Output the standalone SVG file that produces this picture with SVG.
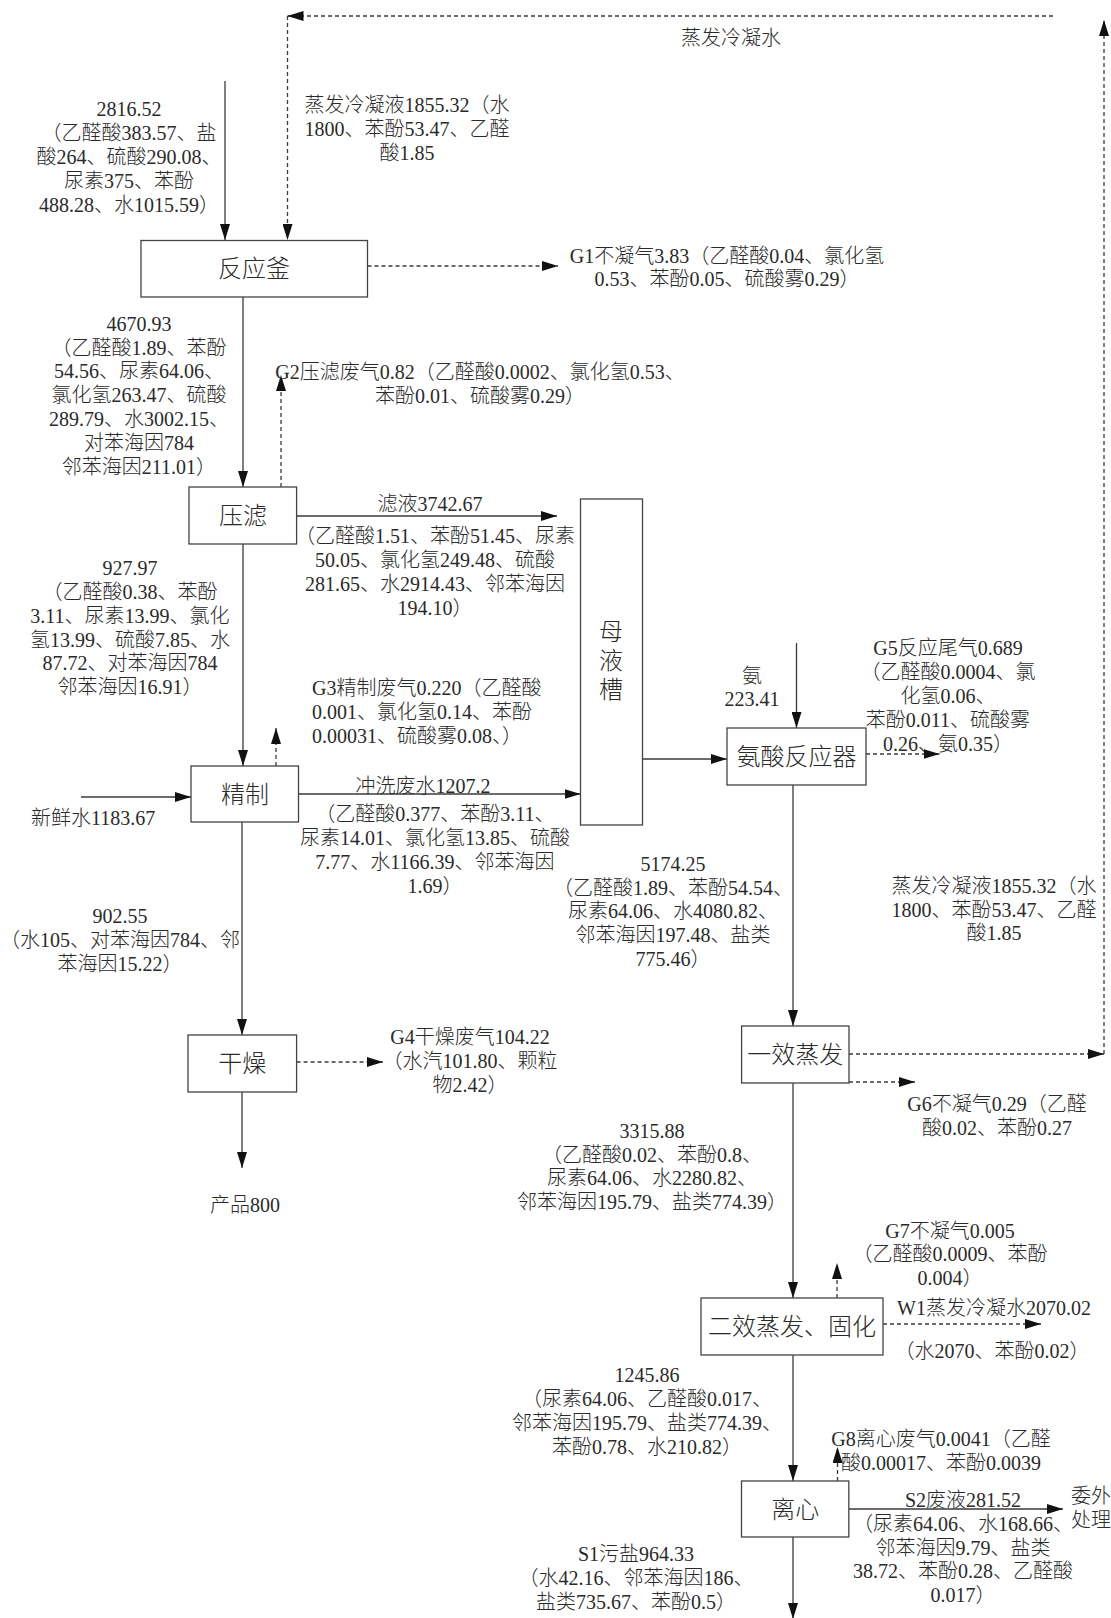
<svg xmlns="http://www.w3.org/2000/svg" width="1111" height="1618" viewBox="0 0 1111 1618">
  <defs>
    <marker id="arr" viewBox="0 0 16 10" refX="16" refY="5" markerWidth="16" markerHeight="10" markerUnits="userSpaceOnUse" orient="auto">
      <path d="M0,0 L16,5 L0,10 z" fill="#111"/>
    </marker>
    <style>
      .box { fill: #fff; stroke: #444; stroke-width: 1.3; }
      .ln { fill: none; stroke: #3a3a3a; stroke-width: 1.3; marker-end: url(#arr); }
      .dash { stroke-dasharray: 4 3; }
      .plain { marker-end: none; }
      text { font-family: "Liberation Serif", "Noto Sans CJK SC", serif; fill: #2a2a2a; font-weight: 300; }
      .t { font-size: 20px; text-anchor: middle; }
      .ts { font-size: 20px; text-anchor: start; }
      .b { font-size: 24px; text-anchor: middle; }
    </style>
  </defs>
  <rect width="1111" height="1618" fill="#fff"/>

  <!-- process connectors -->
  <g id="connectors">
    <line class="ln" x1="225" y1="81" x2="225" y2="240"/>
    <line class="ln" x1="243" y1="297" x2="243" y2="487"/>
    <line class="ln" x1="243" y1="544" x2="243" y2="766"/>
    <line class="ln" x1="242" y1="822" x2="242" y2="1035"/>
    <line class="ln" x1="242" y1="1092" x2="242" y2="1168"/>
    <line class="ln" x1="297" y1="516" x2="557" y2="516"/>
    <line class="ln" x1="81" y1="797" x2="191" y2="797"/>
    <line class="ln" x1="298.5" y1="794" x2="580.5" y2="794"/>
    <line class="ln" x1="643" y1="759" x2="727" y2="759"/>
    <line class="ln" x1="796.5" y1="643" x2="796.5" y2="728"/>
    <line class="ln" x1="793" y1="785" x2="793" y2="1026"/>
    <line class="ln" x1="793" y1="1083" x2="793" y2="1298"/>
    <line class="ln" x1="793" y1="1355" x2="793" y2="1481"/>
    <line class="ln" x1="793" y1="1537" x2="793" y2="1619"/>
    <line class="ln" x1="849" y1="1509" x2="1063" y2="1509"/>

    <!-- condensate return loop -->
    <line class="ln dash" x1="1053" y1="16" x2="287.5" y2="16"/>
    <line class="ln dash" x1="287.5" y1="16" x2="287.5" y2="240"/>
    <line class="ln dash" x1="849" y1="1054" x2="1104" y2="1054"/>
    <line class="ln dash" x1="1104" y1="1054" x2="1104" y2="20"/>

    <!-- off-gas and condensate outlets -->
    <line class="ln dash" x1="367.5" y1="266" x2="558" y2="266"/>
    <line class="ln dash" x1="281" y1="487" x2="281" y2="375"/>
    <line class="ln dash" x1="276" y1="766" x2="276" y2="728"/>
    <line class="ln dash" x1="296.6" y1="1062" x2="383" y2="1062"/>
    <line class="ln dash" x1="866" y1="754" x2="939.5" y2="754"/>
    <line class="ln dash" x1="849" y1="1082" x2="915" y2="1082"/>
    <line class="ln dash" x1="837" y1="1298" x2="837" y2="1263"/>
    <line class="ln dash" x1="883" y1="1324" x2="1041" y2="1324"/>
    <line class="ln dash" x1="837.5" y1="1481" x2="837.5" y2="1447"/>
  </g>

  <!-- process units -->
  <g id="reactor">
    <rect class="box" x="141" y="240.5" width="226.5" height="56.5"/>
    <text class="b" x="254" y="277">反应釜</text>
  </g>
  <g id="filter-press">
    <rect class="box" x="189" y="487" width="107.6" height="57"/>
    <text class="b" x="243" y="524">压滤</text>
  </g>
  <g id="refining">
    <rect class="box" x="191" y="766" width="107.5" height="56"/>
    <text class="b" x="245" y="802.5">精制</text>
  </g>
  <g id="drying">
    <rect class="box" x="188" y="1035" width="108.6" height="57"/>
    <text class="b" x="242.3" y="1072">干燥</text>
  </g>
  <g id="mother-liquor-tank">
    <rect class="box" x="580.5" y="499" width="62" height="326"/>
    <text class="b" x="611" y="639.5">母</text>
    <text class="b" x="611" y="668.5">液</text>
    <text class="b" x="611" y="697.5">槽</text>
  </g>
  <g id="ammonia-reactor">
    <rect class="box" x="727" y="728" width="139" height="57"/>
    <text class="b" x="796.5" y="765">氨酸反应器</text>
  </g>
  <g id="first-evaporator">
    <rect class="box" x="741.6" y="1026" width="107.4" height="57"/>
    <text class="b" x="795.3" y="1063">一效蒸发</text>
  </g>
  <g id="second-evaporator">
    <rect class="box" x="701" y="1298" width="182" height="57"/>
    <text class="b" x="792" y="1335">二效蒸发、固化</text>
  </g>
  <g id="centrifuge">
    <rect class="box" x="741.5" y="1481" width="107.3" height="56"/>
    <text class="b" x="795.3" y="1517.5">离心</text>
  </g>

  <!-- stream labels -->
  <g id="labels">
    <text class="t" x="731" y="45">蒸发冷凝水</text>

    <text class="t" x="129" y="116">2816.52</text>
    <text class="t" x="129" y="140">（乙醛酸383.57、盐</text>
    <text class="t" x="129" y="164">酸264、硫酸290.08、</text>
    <text class="t" x="129" y="188">尿素375、苯酚</text>
    <text class="t" x="129" y="212">488.28、水1015.59）</text>

    <text class="t" x="407" y="112">蒸发冷凝液1855.32（水</text>
    <text class="t" x="407" y="136">1800、苯酚53.47、乙醛</text>
    <text class="t" x="407" y="160">酸1.85</text>

    <text class="t" x="727" y="263">G1不凝气3.83（乙醛酸0.04、氯化氢</text>
    <text class="t" x="727" y="286">0.53、苯酚0.05、硫酸雾0.29）</text>

    <text class="t" x="139" y="331">4670.93</text>
    <text class="t" x="139" y="355">（乙醛酸1.89、苯酚</text>
    <text class="t" x="139" y="378">54.56、尿素64.06、</text>
    <text class="t" x="139" y="402">氯化氢263.47、硫酸</text>
    <text class="t" x="139" y="426">289.79、水3002.15、</text>
    <text class="t" x="139" y="450">对苯海因784</text>
    <text class="t" x="139" y="474">邻苯海因211.01）</text>

    <text class="t" x="480" y="379">G2压滤废气0.82（乙醛酸0.0002、氯化氢0.53、</text>
    <text class="t" x="480" y="403">苯酚0.01、硫酸雾0.29）</text>

    <text class="t" x="430" y="511">滤液3742.67</text>
    <text class="t" x="435" y="543">（乙醛酸1.51、苯酚51.45、尿素</text>
    <text class="t" x="435" y="567">50.05、氯化氢249.48、硫酸</text>
    <text class="t" x="435" y="591">281.65、水2914.43、邻苯海因</text>
    <text class="t" x="435" y="615">194.10）</text>

    <text class="t" x="130" y="575">927.97</text>
    <text class="t" x="130" y="599">（乙醛酸0.38、苯酚</text>
    <text class="t" x="130" y="623">3.11、尿素13.99、氯化</text>
    <text class="t" x="130" y="647">氢13.99、硫酸7.85、水</text>
    <text class="t" x="130" y="670">87.72、对苯海因784</text>
    <text class="t" x="130" y="694">邻苯海因16.91）</text>

    <text class="ts" x="312" y="695">G3精制废气0.220（乙醛酸</text>
    <text class="ts" x="312" y="719">0.001、氯化氢0.14、苯酚</text>
    <text class="ts" x="312" y="743">0.00031、硫酸雾0.08、）</text>

    <text class="ts" x="31" y="825">新鲜水1183.67</text>

    <text class="t" x="423" y="793">冲洗废水1207.2</text>
    <text class="t" x="435" y="821">（乙醛酸0.377、苯酚3.11、</text>
    <text class="t" x="435" y="845">尿素14.01、氯化氢13.85、硫酸</text>
    <text class="t" x="435" y="869">7.77、水1166.39、邻苯海因</text>
    <text class="t" x="435" y="893">1.69）</text>

    <text class="t" x="120" y="923">902.55</text>
    <text class="t" x="120" y="947">（水105、对苯海因784、邻</text>
    <text class="t" x="120" y="971">苯海因15.22）</text>

    <text class="t" x="470" y="1044">G4干燥废气104.22</text>
    <text class="t" x="470" y="1068">（水汽101.80、颗粒</text>
    <text class="t" x="470" y="1092">物2.42）</text>

    <text class="t" x="245" y="1212">产品800</text>

    <text class="t" x="752" y="683">氨</text>
    <text class="t" x="752" y="706">223.41</text>

    <text class="t" x="948" y="655">G5反应尾气0.689</text>
    <text class="t" x="948" y="679">（乙醛酸0.0004、氯</text>
    <text class="t" x="948" y="703">化氢0.06、</text>
    <text class="t" x="948" y="727">苯酚0.011、硫酸雾</text>
    <text class="t" x="948" y="751">0.26、氨0.35）</text>

    <text class="t" x="673" y="871">5174.25</text>
    <text class="t" x="673" y="895">（乙醛酸1.89、苯酚54.54、</text>
    <text class="t" x="673" y="918">尿素64.06、水4080.82、</text>
    <text class="t" x="673" y="942">邻苯海因197.48、盐类</text>
    <text class="t" x="673" y="966">775.46）</text>

    <text class="t" x="994" y="893">蒸发冷凝液1855.32（水</text>
    <text class="t" x="994" y="917">1800、苯酚53.47、乙醛</text>
    <text class="t" x="994" y="940">酸1.85</text>

    <text class="t" x="997" y="1111">G6不凝气0.29（乙醛</text>
    <text class="t" x="997" y="1135">酸0.02、苯酚0.27</text>

    <text class="t" x="652" y="1138">3315.88</text>
    <text class="t" x="652" y="1162">（乙醛酸0.02、苯酚0.8、</text>
    <text class="t" x="652" y="1185">尿素64.06、水2280.82、</text>
    <text class="t" x="652" y="1209">邻苯海因195.79、盐类774.39）</text>

    <text class="t" x="950" y="1238">G7不凝气0.005</text>
    <text class="t" x="950" y="1261">（乙醛酸0.0009、苯酚</text>
    <text class="t" x="950" y="1285">0.004）</text>

    <text class="t" x="994" y="1315">W1蒸发冷凝水2070.02</text>
    <text class="t" x="992" y="1358">（水2070、苯酚0.02）</text>

    <text class="t" x="647" y="1382">1245.86</text>
    <text class="t" x="647" y="1406">（尿素64.06、乙醛酸0.017、</text>
    <text class="t" x="647" y="1430">邻苯海因195.79、盐类774.39、</text>
    <text class="t" x="647" y="1454">苯酚0.78、水210.82）</text>

    <text class="t" x="941" y="1446">G8离心废气0.0041（乙醛</text>
    <text class="t" x="941" y="1470">酸0.00017、苯酚0.0039</text>

    <text class="t" x="963" y="1507">S2废液281.52</text>
    <text class="ts" x="1071" y="1503">委外</text>
    <text class="ts" x="1071" y="1527">处理</text>
    <text class="t" x="963" y="1531">（尿素64.06、水168.66、</text>
    <text class="t" x="963" y="1555">邻苯海因9.79、盐类</text>
    <text class="t" x="963" y="1578">38.72、苯酚0.28、乙醛酸</text>
    <text class="t" x="963" y="1602">0.017）</text>

    <text class="t" x="636" y="1561">S1污盐964.33</text>
    <text class="t" x="636" y="1585">（水42.16、邻苯海因186、</text>
    <text class="t" x="636" y="1609">盐类735.67、苯酚0.5）</text>
  </g>
</svg>
